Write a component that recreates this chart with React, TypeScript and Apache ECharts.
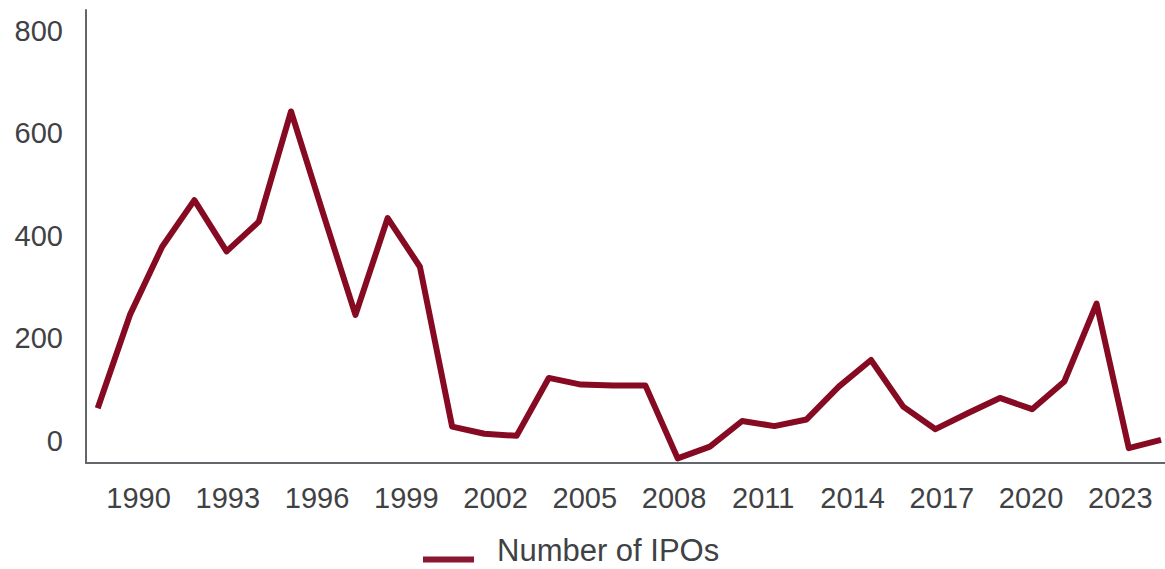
import React, { useEffect, useRef } from "react";
import * as echarts from "echarts";

const years: number[] = [
  1990, 1991, 1992, 1993, 1994, 1995, 1996, 1997, 1998, 1999,
  2000, 2001, 2002, 2003, 2004, 2005, 2006, 2007, 2008, 2009,
  2010, 2011, 2012, 2013, 2014, 2015, 2016, 2017, 2018, 2019,
  2020, 2021, 2022, 2023,
];
const ipoCounts: number[] = [
  64, 246, 379, 470, 370, 428, 643, 443, 246, 435,
  340, 28, 14, 10, 123, 110, 108, 108, -34, -11,
  39, 29, 42, 106, 158, 67, 23, 54, 84, 62,
  116, 268, -14, 2,
];
const yTickLabels: number[] = [0, 200, 400, 600, 800];
const xTickLabels: number[] = [
  1990, 1993, 1996, 1999, 2002, 2005, 2008, 2011, 2014, 2017, 2020, 2023,
];
const seriesName = "Number of IPOs";

export default function App() {
  const ref = useRef<HTMLDivElement>(null);
  useEffect(() => {
    if (!ref.current) return;
    const chart = echarts.init(ref.current, undefined, { renderer: "svg" });
    const axisColor = "#63676b";
    const labelColor = "#3f4245";
    const font = "'Liberation Sans', Arial, sans-serif";
    chart.setOption({
      animation: false,
      backgroundColor: "#ffffff",
      grid: { left: 86, right: 0, top: 10, bottom: 106 },
      legend: {
        show: true,
        left: 423,
        top: 535,
        padding: 0,
        icon: "path://M0,0L0.01,0L0,0.01Z M0,18L51,18L51,24L0,24Z",
        itemWidth: 51,
        itemHeight: 24,
        data: [seriesName],
        textStyle: {
          fontFamily: font,
          fontSize: 31,
          color: labelColor,
          padding: [0, 0, 0, 18],
        },
      },
      xAxis: [
        {
          type: "value",
          min: 1989.637,
          max: 2023.124,
          axisLine: {
            show: true,
            onZero: false,
            lineStyle: { color: axisColor, width: 2 },
          },
          axisTick: { show: false },
          axisLabel: { show: false },
          splitLine: { show: false },
        },
        {
          type: "value",
          position: "bottom",
          min: 1988.235,
          max: 2024.504,
          axisLine: { show: false, onZero: false },
          axisTick: { show: false },
          splitLine: { show: false },
          axisLabel: {
            show: true,
            customValues: xTickLabels,
            formatter: (v: number) => String(v),
            fontFamily: font,
            fontSize: 29,
            color: labelColor,
            margin: 20,
          },
        },
      ],
      yAxis: {
        type: "value",
        min: -43,
        max: 841,
        axisLine: { show: true, onZero: false, lineStyle: { color: axisColor, width: 2 } },
        axisTick: { show: false },
        splitLine: { show: false },
        axisLabel: {
          customValues: yTickLabels,
          formatter: (v: number) => String(v),
          fontFamily: font,
          fontSize: 29,
          color: labelColor,
          margin: 23,
        },
      },
      series: [
        {
          name: seriesName,
          type: "line",
          xAxisIndex: 0,
          data: years.map((y, i) => [y, ipoCounts[i]]),
          showSymbol: false,
          symbol: "none",
          lineStyle: { color: "#850a22", width: 6, join: "round" },
          itemStyle: { color: "#8a1731" },
        },
      ],
    });
    return () => chart.dispose();
  }, []);
  return (
    <div
      ref={ref}
      style={{ position: "fixed", left: 0, top: 0, width: 1165, height: 569 }}
    />
  );
}
